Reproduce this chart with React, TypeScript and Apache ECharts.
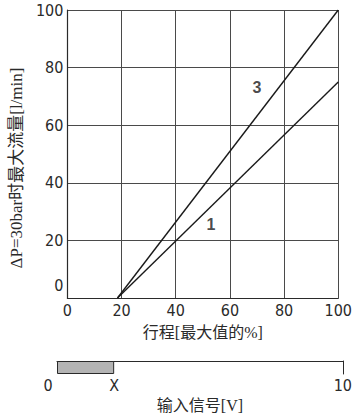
import React, { useEffect, useRef } from "react";
import * as echarts from "echarts";

// Stroke (% of max) vs. max flow at ΔP = 30 bar
const strokeTicks = [0, 20, 40, 60, 80, 100];
const flowTicks = [0, 20, 40, 60, 80, 100];
const curve1: [number, number][] = [
  [18.5, 0],
  [100, 75],
];
const curve3: [number, number][] = [
  [18.5, 0],
  [100, 100],
];
const curveLabels = ["1", "3"];
const curveLabelPos: [number, number][] = [
  [53, 25.5],
  [70, 73],
];

// Input signal bar (0 … 10 V), shaded up to X
const signalRange = [0, 10];
const signalX = 2;
const signalTickValues = [0, 2, 10];
const signalTickText = ["0", "X", "10"];

const numFont = "'DejaVu Sans Condensed', 'DejaVu Sans', sans-serif";
const cjkFont = "'Liberation Serif', 'Noto Sans CJK SC', serif";
const ink = "#2a2a2a";
const gridInk = "#4a4a4a";

export default function App() {
  const ref = useRef<HTMLDivElement>(null);

  useEffect(() => {
    if (!ref.current) return;
    const chart = echarts.init(ref.current, null, { renderer: "svg" });

    chart.setOption({
      animation: false,
      backgroundColor: "#fff",
      grid: [
        { left: 57, right: 10, top: 10, bottom: 118 },
        { left: 57, right: 10, top: 361, height: 13 },
      ],
      xAxis: [
        {
          gridIndex: 0,
          type: "value",
          min: strokeTicks[0],
          max: strokeTicks[strokeTicks.length - 1],
          interval: 20,
          name: "行程[最大值的%]",
          nameLocation: "middle",
          nameGap: 26,
          nameTextStyle: { fontFamily: cjkFont, fontSize: 16, color: ink },
          axisLine: { show: true, lineStyle: { color: ink, width: 1.2 } },
          axisTick: { show: false },
          axisLabel: {
            margin: 4,
            fontFamily: numFont,
            fontSize: 16,
            color: ink,
          },
          splitLine: { show: true, lineStyle: { color: gridInk, width: 1 } },
        },
        {
          gridIndex: 1,
          type: "value",
          position: "top",
          min: signalRange[0],
          max: signalRange[1],
          name: "输入信号[V]",
          nameLocation: "middle",
          nameGap: -52,
          nameTextStyle: { fontFamily: cjkFont, fontSize: 16, color: ink },
          axisLine: { show: true, lineStyle: { color: ink, width: 1 } },
          axisTick: { show: false },
          splitLine: { show: false },
          axisLabel: {
            inside: true,
            margin: 16,
            customValues: signalTickValues,
            fontFamily: numFont,
            fontSize: 16,
            color: ink,
            formatter: (v: number) => {
              const i = signalTickValues.indexOf(v);
              if (i < 0) return "";
              return v === 0 ? "{l|" + signalTickText[i] + "}" : signalTickText[i];
            },
            rich: {
              l: {
                fontFamily: numFont,
                fontSize: 16,
                color: ink,
                padding: [0, 18, 0, 0],
              },
            },
          },
        },
      ],
      yAxis: [
        {
          gridIndex: 0,
          type: "value",
          min: flowTicks[0],
          max: flowTicks[flowTicks.length - 1],
          interval: 20,
          name: "ΔP=30bar时最大流量[l/min]",
          nameLocation: "middle",
          nameGap: 31,
          nameTextStyle: {
            fontFamily: cjkFont,
            fontSize: 17,
            color: ink,
            padding: [0, 28, 0, 0],
          },
          axisLine: { show: true, lineStyle: { color: ink, width: 1.2 } },
          axisTick: { show: false },
          axisLabel: {
            margin: 4,
            fontFamily: numFont,
            fontSize: 16,
            color: ink,
            formatter: (v: number) => (v === 0 ? "{z|0}" : String(v)),
            rich: {
              z: {
                fontFamily: numFont,
                fontSize: 16,
                color: ink,
                padding: [0, 0, 26, 0],
              },
            },
          },
          splitLine: { show: true, lineStyle: { color: gridInk, width: 1 } },
        },
        {
          gridIndex: 1,
          type: "category",
          data: ["signal"],
          position: "right",
          axisLine: { show: true, onZero: false, lineStyle: { color: ink, width: 1 } },
          axisTick: { show: false },
          axisLabel: { show: false },
          splitLine: { show: false },
        },
      ],
      series: [
        {
          type: "line",
          xAxisIndex: 0,
          yAxisIndex: 0,
          data: curve1,
          symbol: "none",
          lineStyle: { color: "#1a1a1a", width: 1.4 },
        },
        {
          type: "line",
          xAxisIndex: 0,
          yAxisIndex: 0,
          data: curve3,
          symbol: "none",
          lineStyle: { color: "#1a1a1a", width: 1.4 },
        },
        {
          type: "scatter",
          xAxisIndex: 0,
          yAxisIndex: 0,
          symbolSize: 0,
          data: curveLabelPos.map((p, i) => ({ value: p, name: curveLabels[i] })),
          label: {
            show: true,
            position: "inside",
            formatter: (p: any) => p.name,
            fontFamily: "'Liberation Sans', Arial, sans-serif",
            fontWeight: "bold",
            fontSize: 16,
            color: "#1a1a1a",
          },
        },
        {
          type: "bar",
          xAxisIndex: 1,
          yAxisIndex: 1,
          data: [signalX],
          barWidth: 13,
          itemStyle: { color: "#b4b4b4", borderColor: ink, borderWidth: 1 },
        },
      ],
    });

    return () => chart.dispose();
  }, []);

  return (
    <div
      ref={ref}
      style={{ position: "fixed", left: 0, top: 0, width: 355, height: 416 }}
    />
  );
}
